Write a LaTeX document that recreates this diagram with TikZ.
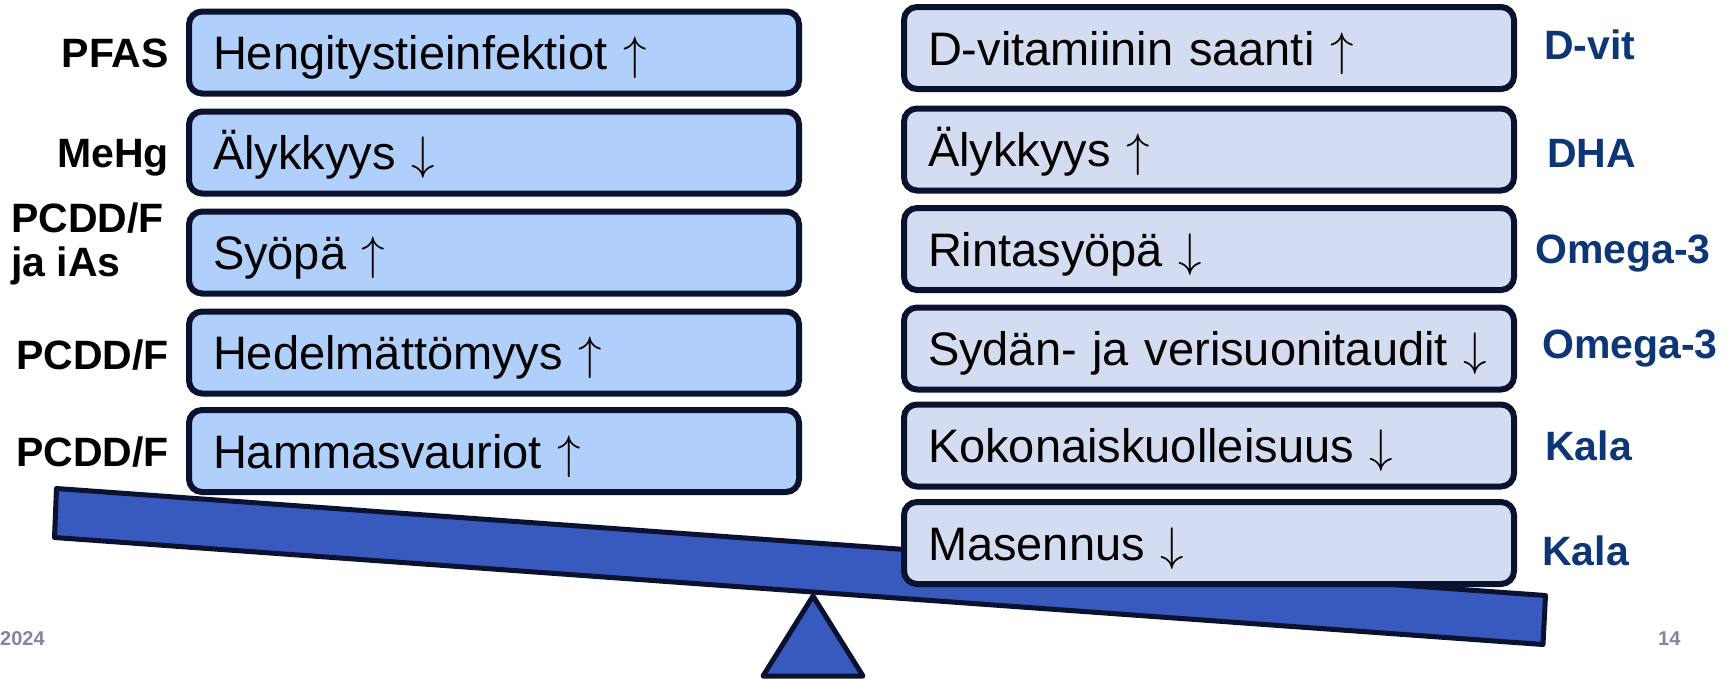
\RequirePackage{fix-cm}
\documentclass[tikz,border=0pt]{standalone}
\usepackage{fontspec}
\setmainfont{Liberation Sans}
\usepackage{xcolor}
\usepackage{tikz}

\definecolor{edgenavy}{HTML}{0A1230}
\definecolor{riskblue}{HTML}{B0D0FB}
\definecolor{benefitblue}{HTML}{D4DCF2}
\definecolor{beamblue}{HTML}{3859BD}
\definecolor{srcblue}{HTML}{0D3677}
\definecolor{footgray}{HTML}{8C80A0}

\newcommand{\up}{\ensuremath{\uparrow}}
\newcommand{\down}{\ensuremath{\downarrow}}

\begin{document}
\begin{tikzpicture}[
  x=1pt, y=-1pt,
  box/.style={draw=edgenavy,line width=6pt,rounded corners=13pt,
    minimum width=610pt,minimum height=82pt,inner xsep=24pt,inner ysep=0pt,
    text width=562pt,align=left,text height=34pt,text depth=0pt,
    font=\fontsize{47}{52}\selectfont},
  riskbox/.style={box,fill=riskblue},
  benefitbox/.style={box,fill=benefitblue},
  src/.style={inner sep=0pt,font=\fontsize{41}{44}\selectfont\bfseries},
  benefitsrc/.style={src,text=srcblue,anchor=base west},
  foot/.style={inner sep=0pt,anchor=base west,text=footgray,font=\fontsize{20}{22}\selectfont\bfseries},
  beam/.style={draw=edgenavy,fill=beamblue,line width=5pt,line join=round}
]
\useasboundingbox (0,0) rectangle (1735,681);

\draw[beam] (813,596) -- (863,676) -- (763,676) -- cycle;
\draw[beam] (56.5,488.5) -- (1545.5,595.5) -- (1543,644.5) -- (54.5,537.5) -- cycle;

\node[riskbox] (r1) at (494,52.5) {Hengitystieinfektiot \up};
\node[riskbox] (r2) at (494,152.5) {Älykkyys \down};
\node[riskbox] (r3) at (494,252.5) {Syöpä \up};
\node[riskbox] (r4) at (494,352.5) {Hedelmättömyys \up};
\node[riskbox] (r5) at (494,451) {Hammasvauriot \up};

\node[benefitbox] (b1) at (1209,48) {D-vitamiinin saanti \up};
\node[benefitbox] (b2) at (1209,149.5) {Älykkyys \up};
\node[benefitbox] (b3) at (1209,249) {Rintasyöpä \down};
\node[benefitbox] (b4) at (1209,348.5) {Sydän- ja verisuonitaudit \down};
\node[benefitbox] (b5) at (1209,445.5) {Kokonaiskuolleisuus \down};
\node[benefitbox] (b6) at (1209,543) {Masennus \down};

\node[src,anchor=base east] (s1) at (169,67) {PFAS};
\node[src,anchor=base east] (s2) at (169,167) {MeHg};
\node[src,anchor=west,align=left] (s3) at (11,244) {PCDD/F\\ja iAs};
\node[src,anchor=base east] (s4) at (169,369) {PCDD/F};
\node[src,anchor=base east] (s5) at (169,466) {PCDD/F};

\node[benefitsrc] (t1) at (1544,59) {D-vit};
\node[benefitsrc] (t2) at (1547,167) {DHA};
\node[benefitsrc] (t3) at (1535,263) {Omega-3};
\node[benefitsrc] (t4) at (1542,358) {Omega-3};
\node[benefitsrc] (t5) at (1545,460) {Kala};
\node[benefitsrc] (t6) at (1542,565) {Kala};

\node[foot] (year) at (0,645) {2024};
\node[foot] (page) at (1658,645) {14};

\end{tikzpicture}
\end{document}
